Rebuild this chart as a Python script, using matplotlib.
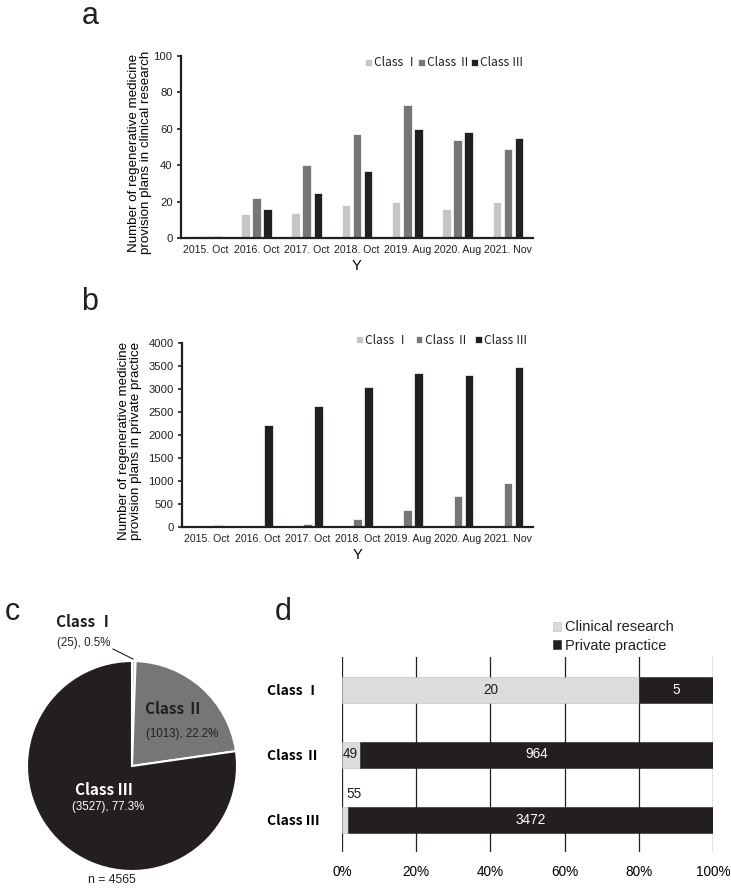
import matplotlib
matplotlib.use("Agg")
import matplotlib.pyplot as plt
import numpy as np

W, H = 731, 889

periods = ["2015. Oct", "2016. Oct", "2017. Oct", "2018. Oct", "2019. Aug", "2020. Aug", "2021. Nov"]
class_names = ["Class \u2160", "Class \u2161", "Class \u2162"]

# clinical research (panel a)
clin_c1 = [1, 13, 14, 18, 20, 16, 20]
clin_c2 = [1, 22, 40, 57, 73, 54, 49]
clin_c3 = [1, 16, 25, 37, 60, 58, 55]

# private practice (panel b)
priv_c1 = [0, 0, 2, 2, 3, 4, 5]
priv_c2 = [0, 30, 60, 165, 370, 665, 964]
priv_c3 = [50, 2220, 2630, 3050, 3350, 3310, 3472]

# panel c
pie_values = [25, 1013, 3527]
pie_total = 4565

# panel d
d_clinical = [20, 49, 55]
d_private = [5, 964, 3472]
d_ticks = [0, 20, 40, 60, 80, 100]

bar_colors = ["#c6c6c6", "#767679", "#231f20"]
FONT = ["Liberation Sans", "DejaVu Sans"]
NUM_FONT = ["Noto Sans CJK JP", "DejaVu Sans"]
plt.rcParams["font.family"] = FONT
plt.rcParams["text.color"] = "#231f20"


def box(left, top, right, bottom):
    return [left / W, 1 - bottom / H, (right - left) / W, (bottom - top) / H]


def ftext(fig, x, y, s, **kw):
    return fig.text(x / W, 1 - y / H, s, **kw)


def grouped(ax, series, ylim, yticks, ylabel, label_x, legend_pos, spacing):
    x = np.arange(len(periods))
    width = 0.17
    for i, vals in enumerate(series):
        ax.bar(x + (i - 1) * 0.22, vals, width, color=bar_colors[i], edgecolor="white",
               linewidth=0.5, label=class_names[i], zorder=2)
    ax.set_xlim(-0.5, len(periods) - 0.5)
    ax.set_ylim(*ylim)
    ax.set_yticks(yticks)
    ax.set_xticks(x)
    ax.set_xticklabels(periods, fontsize=7.6, color="#231f20")
    ax.tick_params(axis="x", length=0, pad=5)
    ax.tick_params(axis="y", labelsize=8.1, length=3, width=1.2, colors="#231f20", direction="out", pad=3)
    for s in ("top", "right"):
        ax.spines[s].set_visible(False)
    for s in ("left", "bottom"):
        ax.spines[s].set_linewidth(1.6)
        ax.spines[s].set_color("#231f20")
    ax.set_ylabel(ylabel, fontsize=9.6, linespacing=1.0)
    ax.yaxis.set_label_coords(label_x, 0.47)
    ax.set_xlabel("Y", fontsize=10.5, labelpad=3)
    ax.legend(loc="center left", bbox_to_anchor=legend_pos, ncol=3, frameon=False,
              prop={"family": NUM_FONT, "size": 8.6},
              handlelength=0.55, handleheight=0.55, handletextpad=0.2, columnspacing=spacing,
              borderpad=0)


fig = plt.figure(figsize=(W / 100, H / 100), dpi=100)

ax_a = fig.add_axes(box(181, 56, 533, 238))
grouped(ax_a, [clin_c1, clin_c2, clin_c3], (0, 100), range(0, 101, 20),
        "Number of regenerative medicine\nprovision plans in clinical research",
        (152 - 181) / 352, ((359 - 181) / 352, (238 - 63) / 182), 0.05)

ax_b = fig.add_axes(box(182, 343, 533, 527))
grouped(ax_b, [priv_c1, priv_c2, priv_c3], (0, 4000), range(0, 4001, 500),
        "Number of regenerative medicine\nprovision plans in private practice",
        (142 - 182) / 351, ((350 - 182) / 351, (527 - 340) / 184), 0.6)

ftext(fig, 90, 16, "a", fontsize=22, ha="center", va="center")
ftext(fig, 90, 302, "b", fontsize=22, ha="center", va="center")
ftext(fig, 12, 612, "c", fontsize=22, ha="center", va="center")
ftext(fig, 283, 612, "d", fontsize=22, ha="center", va="center")

# panel c: pie
ax_c = fig.add_axes(box(27, 661, 237, 871))
ax_c.pie(pie_values, colors=["#d9d9d9", "#767679", "#231f20"], startangle=90, counterclock=False,
         radius=1, wedgeprops=dict(edgecolor="white", linewidth=1.5))
ax_c.set_xlim(-1.0, 1.0)
ax_c.set_ylim(-1.0, 1.0)
ax_c.set_aspect("equal")
ax_c.axis("off")

shares = [v / pie_total * 100 for v in pie_values]
ftext(fig, 85, 622, class_names[0], fontsize=11, fontweight="bold", family=NUM_FONT,
      ha="center", va="center")
ftext(fig, 84, 643, f"({pie_values[0]}), {shares[0]:.1f}%", fontsize=8.3, ha="center", va="center")
fig.add_artist(plt.Line2D([113 / W, 133 / W], [1 - 649 / H, 1 - 659 / H], color="#231f20", lw=0.8))
ftext(fig, 174, 709, class_names[1], fontsize=11, fontweight="bold", family=NUM_FONT,
      ha="center", va="center")
ftext(fig, 182, 734, f"({pie_values[1]}), {shares[1]:.1f}%", fontsize=8.3, ha="center", va="center")
ftext(fig, 104, 790, class_names[2], fontsize=11, fontweight="bold", family=NUM_FONT,
      ha="center", va="center", color="white")
ftext(fig, 108, 807, f"({pie_values[2]}), {shares[2]:.1f}%", fontsize=8.3, ha="center", va="center",
      color="white")
ftext(fig, 112, 880, f"n = {pie_total}", fontsize=8.8, ha="center", va="center")

# panel d: 100% stacked bars
ax_d = fig.add_axes(box(342, 657, 713, 852))
tot = np.array(d_clinical) + np.array(d_private)
p_clin = np.array(d_clinical) / tot * 100
p_priv = np.array(d_private) / tot * 100
y = np.arange(3)
ax_d.barh(y, p_clin, 0.4, color="#dcdcdc", edgecolor="#bbbbbb", linewidth=0.4,
          label="Clinical research", zorder=2)
ax_d.barh(y, p_priv, 0.4, left=p_clin, color="#231f20", edgecolor="#231f20", linewidth=0.4,
          label="Private practice", zorder=2)
ax_d.set_xlim(0, 100)
ax_d.set_ylim(2.5, -0.5)
ax_d.set_xticks(d_ticks)
ax_d.set_xticklabels([f"{t}%" for t in d_ticks], fontsize=9.8)
ax_d.set_yticks(y)
ax_d.set_yticklabels(class_names, fontsize=10, fontweight="bold", family=NUM_FONT)
ax_d.tick_params(length=0, pad=16)
ax_d.tick_params(axis="x", pad=9)
for s in ax_d.spines.values():
    s.set_visible(False)
for t in d_ticks:
    ax_d.axvline(t, color="#231f20", lw=0.9, zorder=1)

ax_d.text(p_clin[0] / 2, 0, str(d_clinical[0]), ha="center", va="center", fontsize=9.8, zorder=3)
ax_d.text(p_clin[0] + p_priv[0] / 2, 0, str(d_private[0]), ha="center", va="center", fontsize=9.8,
          color="white", zorder=3)
ax_d.text(0.3, 1, str(d_clinical[1]), ha="left", va="center", fontsize=9.8, zorder=3)
ax_d.text(p_clin[1] + p_priv[1] / 2, 1, str(d_private[1]), ha="center", va="center", fontsize=9.8,
          color="white", zorder=3)
ax_d.text(3.2, 1.6, str(d_clinical[2]), ha="center", va="center", fontsize=9.8, zorder=3)
ax_d.text(p_clin[2] + p_priv[2] / 2, 2, str(d_private[2]), ha="center", va="center", fontsize=9.8,
          color="white", zorder=3)
ax_d.legend(loc="upper left", bbox_to_anchor=((546 - 342) / 371, 1 + (657 - 613) / 195), frameon=False,
            fontsize=10.5, handlelength=0.55, handleheight=0.55, handletextpad=0.25, labelspacing=0.3,
            borderpad=0)

fig.savefig("out.png", dpi=100, facecolor="white")
